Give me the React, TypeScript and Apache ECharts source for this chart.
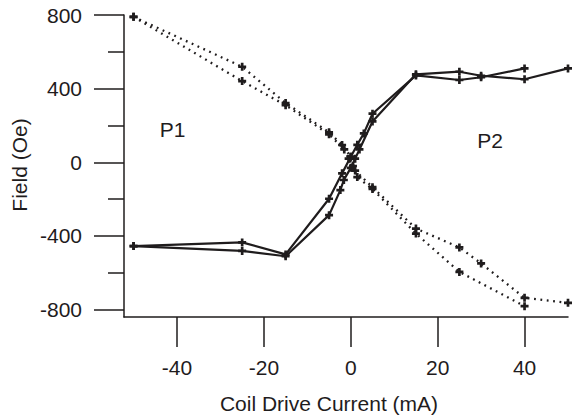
import React, { useEffect, useRef } from "react";
import * as echarts from "echarts";

// Axis ticks
const xTickValues = [-40, -20, 0, 20, 40];
const yTickValues = [-800, -400, 0, 400, 800];
const yMinorTickValues = [-600, -200, 200, 600];

// Solid loop (P2): decreasing sweep
const solidDownX = [40, 30, 25, 15, 5, 3, 1.5, 0, -2, -5, -15, -25, -50];
const solidDownY = [510, 462, 447, 472, 264, 157, 95, 30, -60, -198, -500, -435, -455];
// Solid loop (P2): increasing sweep
const solidUpX = [-50, -25, -15, -5, -2.4, -1.6, 0, 1, 2, 5, 15, 25, 30, 40, 50];
const solidUpY = [-455, -481, -510, -287, -151, -96, -30, 20, 70, 222, 478, 492, 470, 451, 510];

// Dotted loop (P1): branch A
const dotAX = [-50, -25, -15, -5, -2, 0, 1, 5, 15, 25, 30, 40, 50];
const dotAY = [790, 519, 322, 163, 94, 30, -45, -135, -360, -462, -549, -736, -763];
// Dotted loop (P1): branch B
const dotBX = [-50, -25, -15, -5, -1.5, -0.5, 0.5, 1.5, 5, 15, 25, 40];
const dotBY = [790, 441, 310, 152, 70, 20, -20, -80, -145, -387, -595, -781];

const zip = (xs: number[], ys: number[]) => xs.map((x, i) => [x, ys[i]]);

const INK = "#1f1c1d";
const FONT = "'Liberation Sans', Arial, sans-serif";
const FS = 21;
const PLUS = "path://M3,0H6V3H9V6H6V9H3V6H0V3H3Z";

export default function App() {
  const ref = useRef<HTMLDivElement>(null);
  useEffect(() => {
    if (!ref.current) return;
    const chart = echarts.init(ref.current, undefined, { renderer: "svg" });
    const solidStyle = { color: INK, width: 2.2 };
    const dotStyle = { color: INK, width: 2.3, type: [1.8, 4.6] as any, cap: "butt" as const };
    const common = {
      type: "line" as const,
      symbol: PLUS,
      symbolSize: 8,
      showSymbol: true,
      showAllSymbol: true,
      itemStyle: { color: INK },
      emphasis: { disabled: true },
      silent: true,
    };
    chart.setOption({
      animation: false,
      backgroundColor: "#ffffff",
      grid: { left: 124, right: 6, top: 15, bottom: 99, containLabel: false },
      xAxis: {
        type: "value",
        min: -52.2,
        max: 50,
        axisLine: { show: true, onZero: false, lineStyle: { color: INK, width: 1.5 } },
        axisTick: { show: true, customValues: xTickValues, length: 30, inside: false, lineStyle: { color: INK, width: 1.5 } },
        axisLabel: { show: true, customValues: xTickValues, margin: 40, fontSize: FS, color: INK, fontFamily: FONT },
        splitLine: { show: false },
      },
      yAxis: [
        {
          type: "value",
          position: "left",
          min: -840,
          max: 800,
          axisLine: { show: true, onZero: false, lineStyle: { color: INK, width: 1.5 } },
          axisTick: { show: true, customValues: yTickValues, length: 30, inside: false, lineStyle: { color: INK, width: 1.5 } },
          axisLabel: { show: true, customValues: yTickValues, margin: 42, fontSize: FS, color: INK, fontFamily: FONT },
          splitLine: { show: false },
        },
        {
          type: "value",
          position: "left",
          min: -840,
          max: 800,
          axisLine: { show: false, onZero: false },
          axisTick: { show: true, customValues: yMinorTickValues, length: 16, inside: false, lineStyle: { color: INK, width: 1.5 } },
          axisLabel: { show: false },
          splitLine: { show: false },
        },
      ],
      series: [
        { ...common, name: "P2 down", data: zip(solidDownX, solidDownY), lineStyle: solidStyle },
        { ...common, name: "P2 up", data: zip(solidUpX, solidUpY), lineStyle: solidStyle },
        { ...common, name: "P1 A", data: zip(dotAX, dotAY), lineStyle: dotStyle },
        { ...common, name: "P1 B", data: zip(dotBX, dotBY), lineStyle: dotStyle },
      ],
      graphic: [
        {
          type: "text",
          x: 329,
          y: 403,
          style: { text: "Coil Drive Current (mA)", fill: INK, font: `${FS}px ${FONT}`, align: "center", verticalAlign: "middle" },
        },
        {
          type: "text",
          x: 19,
          y: 165,
          rotation: Math.PI / 2,
          style: { text: "Field (Oe)", fill: INK, font: `${FS}px ${FONT}`, align: "center", verticalAlign: "middle" },
        },
        {
          type: "text",
          x: 172.5,
          y: 129,
          style: { text: "P1", fill: INK, font: `${FS}px ${FONT}`, align: "center", verticalAlign: "middle" },
        },
        {
          type: "text",
          x: 490,
          y: 140,
          style: { text: "P2", fill: INK, font: `${FS}px ${FONT}`, align: "center", verticalAlign: "middle" },
        },
      ],
    });
    return () => chart.dispose();
  }, []);
  return (
    <div
      ref={ref}
      style={{ position: "fixed", left: 0, top: 0, width: 574, height: 416, background: "#fff" }}
    />
  );
}
